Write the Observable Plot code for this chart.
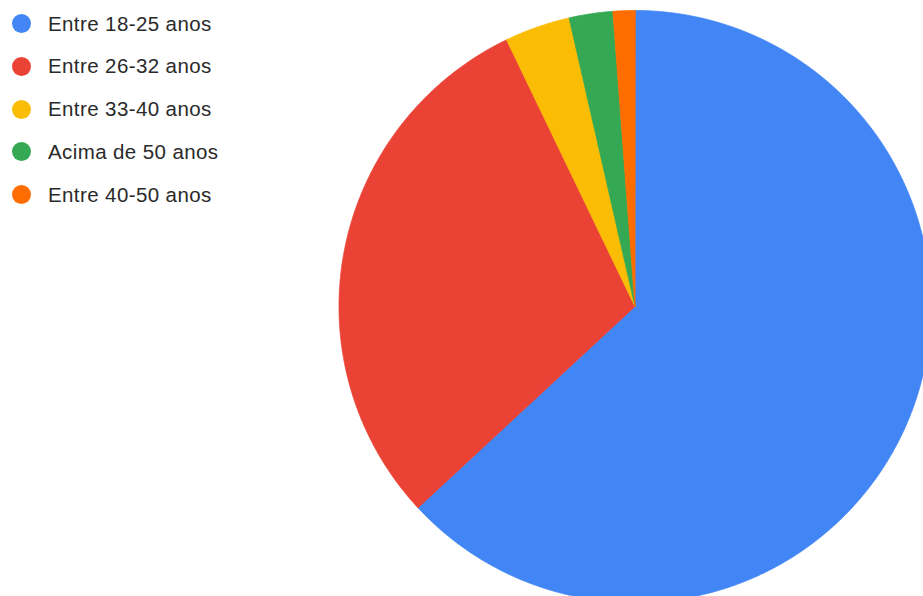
<!DOCTYPE html>
<html>
<head>
<meta charset="utf-8">
<script src="https://cdn.jsdelivr.net/npm/d3@7"></script>
<script src="https://cdn.jsdelivr.net/npm/@observablehq/plot@0.6"></script>
<style>
  html, body { margin: 0; padding: 0; background: #fff; }
  #wrap { position: relative; width: 923px; height: 596px; overflow: hidden; }
  #legend { position: absolute; left: 0; top: 0; font-family: "Liberation Sans", Arial, sans-serif; font-size: 20.5px; letter-spacing: 0.4px; color: #2a2a2a; }
  .item { position: absolute; left: 0; height: 24px; white-space: nowrap; }
  .sw { position: absolute; left: 11.5px; width: 19px; height: 19px; border-radius: 50%; top: 2.5px; }
  .lb { position: absolute; left: 48px; top: 0; line-height: 24px; }
</style>
</head>
<body>
<div id="wrap">
  <div id="chart"></div>
  <div id="legend"></div>
</div>
<script>
const labels = ["Entre 18-25 anos", "Entre 26-32 anos", "Entre 33-40 anos", "Acima de 50 anos", "Entre 40-50 anos"];
const values = [53, 25, 3, 2, 1];
const colors = ["#4285f4", "#ea4335", "#fbbc04", "#34a853", "#ff6d01"];

// Pie geometry from the data (angles clockwise from 12 o'clock)
const arcs = d3.pie().sort(null).value(d => d)(values);
const pts = [];
arcs.forEach((a, i) => {
  const label = labels[i];
  pts.push({label, x: 0, y: 0});
  const n = Math.max(2, Math.ceil((a.endAngle - a.startAngle) / (Math.PI / 720)));
  for (let k = 0; k <= n; k++) {
    const t = a.startAngle + (a.endAngle - a.startAngle) * k / n;
    pts.push({label, x: Math.sin(t), y: Math.cos(t)});
  }
});

const W = 923, H = 596, cx = 634.5, cy = 306, r = 296;
const chart = Plot.plot({
  width: W,
  height: H,
  margin: 0,
  x: {domain: [-cx / r, (W - cx) / r], axis: null},
  y: {domain: [-(H - cy) / r, cy / r], axis: null},
  color: {domain: labels, range: colors},
  marks: [
    Plot.line(pts, {x: "x", y: "y", z: "label", fill: "label", stroke: "label", strokeWidth: 0.8, curve: "linear-closed"})
  ]
});
document.getElementById("chart").appendChild(chart);

const leg = document.getElementById("legend");
labels.forEach((l, i) => {
  const it = document.createElement("div");
  it.className = "item";
  it.style.top = (11.5 + i * 42.75) + "px";
  it.innerHTML = `<span class="sw" style="background:${colors[i]}"></span><span class="lb">${l}</span>`;
  leg.appendChild(it);
});
</script>
</body>
</html>
